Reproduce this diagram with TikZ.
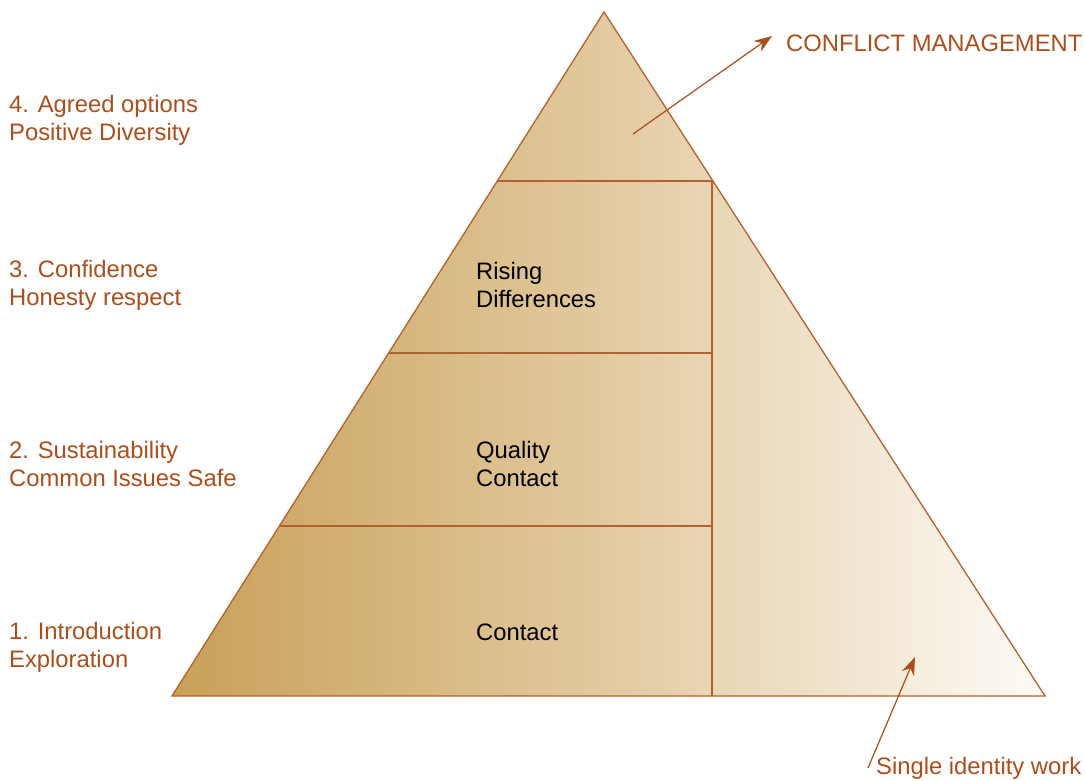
\documentclass[tikz,border=0pt]{standalone}
\usepackage{fontspec}
\setmainfont{Liberation Sans}
\usetikzlibrary{arrows.meta}
\definecolor{rust}{RGB}{170,78,28}
\definecolor{edge}{RGB}{180,98,45}
\definecolor{sandL}{RGB}{200,160,88}
\definecolor{sandM}{RGB}{226,202,160}
\definecolor{sandR}{RGB}{253,251,247}
\begin{document}
\begin{tikzpicture}[x=1pt,y=-1pt,
  every node/.style={font=\fontsize{23.8}{28}\selectfont, inner sep=0pt},
  stage/.style={anchor=west, align=left, text=rust},
  inside/.style={anchor=west, align=left, text=black},
  outline/.style={draw=edge, line width=1.3pt},
  pointer/.style={draw=rust, line width=1.2pt, -{Stealth[length=18pt,width=13pt]}}]
  \useasboundingbox (0,0) rectangle (1085,780);
  % pyramid body with left-to-right shading
  \coordinate (apex) at (604,12);
  \coordinate (bl) at (172,696);
  \coordinate (br) at (1045,696);
  \shade[left color=sandL, right color=sandR, middle color=sandM]
    (apex) -- (br) -- (bl) -- cycle;
  % tier dividers
  \coordinate (t4l) at (497.3,181);
  \coordinate (t4r) at (712,181);
  \coordinate (t3l) at (388.7,353);
  \coordinate (t3r) at (712,353);
  \coordinate (t2l) at (279.5,526);
  \coordinate (t2r) at (712,526);
  \coordinate (vb) at (712,696);
  \draw[outline] (t4l) -- (t4r) -- (vb);
  \draw[outline] (t3l) -- (t3r);
  \draw[outline] (t2l) -- (t2r);
  \draw[outline, line join=miter] (apex) -- (br) -- (bl) -- cycle;
  % stage labels on the left
  \node[stage] (s4) at (9,120) {4. Agreed options\\Positive Diversity};
  \node[stage] (s3) at (9,285) {3. Confidence\\Honesty respect};
  \node[stage] (s2) at (9,464) {2. Sustainability\\Common Issues Safe};
  \node[stage] (s1) at (9,647) {1. Introduction\\Exploration};
  % tier contents
  \node[inside] (rise) at (476,285) {Rising\\Differences};
  \node[inside] (qual) at (476,464) {Quality\\Contact};
  \node[inside] (cont) at (476,632) {Contact};
  % callouts
  \node[stage] (cm) at (786,43) {CONFLICT MANAGEMENT};
  \node[stage] (siw) at (876,768) {Single identity work};
  \coordinate (cmfrom) at (633,134);
  \coordinate (cmto) at (772,36);
  \coordinate (siwfrom) at (868,768);
  \coordinate (siwto) at (915,657);
  \draw[pointer] (cmfrom) -- (cmto);
  \draw[pointer] (siwfrom) -- (siwto);
\end{tikzpicture}
\end{document}
